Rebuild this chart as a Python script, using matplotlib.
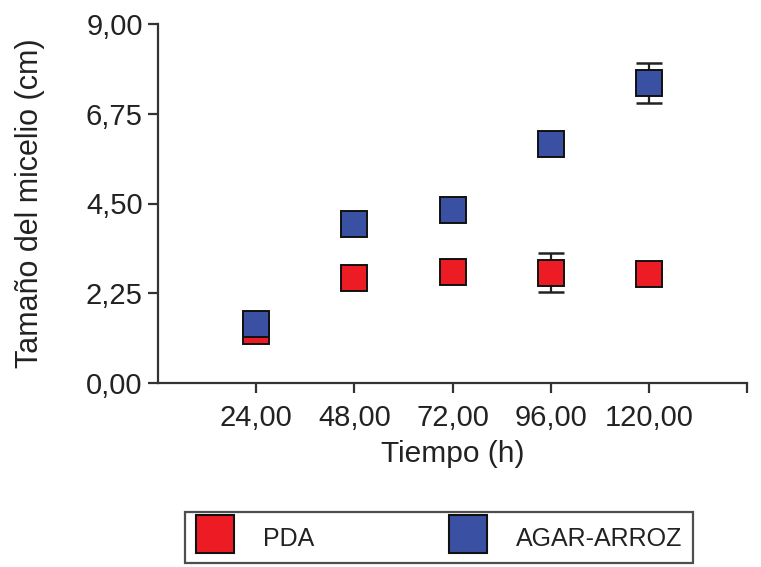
import matplotlib
matplotlib.use("Agg")
import matplotlib.pyplot as plt
from matplotlib.lines import Line2D
from matplotlib.ticker import FuncFormatter

plt.rcParams['font.family'] = ['Liberation Sans', 'DejaVu Sans']

tiempo = [24, 48, 72, 96, 120]
pda = [1.31, 2.62, 2.79, 2.77, 2.74]
pda_err = [0.10, 0.10, 0.10, 0.50, 0.10]
agar = [1.47, 3.99, 4.34, 5.99, 7.52]
agar_err = [0.10, 0.10, 0.10, 0.10, 0.49]
x_ticks = [24, 48, 72, 96, 120, 144]
x_labels = ["24,00", "48,00", "72,00", "96,00", "120,00", ""]
y_ticks = [0, 2.25, 4.5, 6.75, 9]

RED = "#ED1C24"
BLUE = "#3A51A3"
TXT = "#222222"
SP = "#333333"

fig = plt.figure(figsize=(7.61, 5.67), dpi=100)
ax = fig.add_axes([158/761, 184/567, (747-158)/761, (383-24)/567])

for vals, err, col, z in [(pda, pda_err, RED, 3), (agar, agar_err, BLUE, 5)]:
    ax.errorbar(tiempo, vals, yerr=err, fmt='none', ecolor='#222222',
                elinewidth=1.6, capsize=9.2, capthick=1.8, zorder=z)
    ax.plot(tiempo, vals, linestyle='none', marker='s', markersize=18.5,
            markerfacecolor=col, markeredgecolor='#111111', markeredgewidth=1.4,
            zorder=z + 1)

ax.set_xlim(0, 144)
ax.set_ylim(0, 9)
ax.set_xticks(x_ticks)
ax.set_xticklabels(x_labels)
ax.set_yticks(y_ticks)
ax.yaxis.set_major_formatter(FuncFormatter(lambda v, p: f"{v:.2f}".replace('.', ',')))

ax.spines['top'].set_visible(False)
ax.spines['right'].set_visible(False)
for s in ['left', 'bottom']:
    ax.spines[s].set_color(SP)
    ax.spines[s].set_linewidth(1.6)

ax.tick_params(axis='both', direction='out', length=7, width=1.6, color=SP,
               labelsize=21, labelcolor=TXT, pad=4)
ax.tick_params(axis='x', pad=8)

ax.set_xlabel("Tiempo (h)", fontsize=21.5, color=TXT, labelpad=6)
ax.set_ylabel("Tamaño del micelio (cm)", fontsize=22, color=TXT)
ax.yaxis.set_label_coords((45 - 158) / 589, 0.5)

handles = [
    Line2D([], [], linestyle='none', marker='s', markersize=27,
           markerfacecolor=RED, markeredgecolor='#111111', markeredgewidth=1.5),
    Line2D([], [], linestyle='none', marker='s', markersize=27,
           markerfacecolor=BLUE, markeredgecolor='#111111', markeredgewidth=1.5),
]
leg = fig.legend(handles, ["PDA", "AGAR-ARROZ"], ncol=2, loc='center',
                 bbox_to_anchor=(439/761, 1 - 537.5/567), fontsize=18,
                 frameon=True, fancybox=False, handlelength=1.52, handleheight=1.52,
                 handletextpad=1.16, columnspacing=5.4, borderpad=0.42)
leg.get_frame().set_edgecolor('#222222')
leg.get_frame().set_linewidth(1.6)
for t in leg.get_texts():
    t.set_color(TXT)

fig.savefig("out.png", dpi=100)
